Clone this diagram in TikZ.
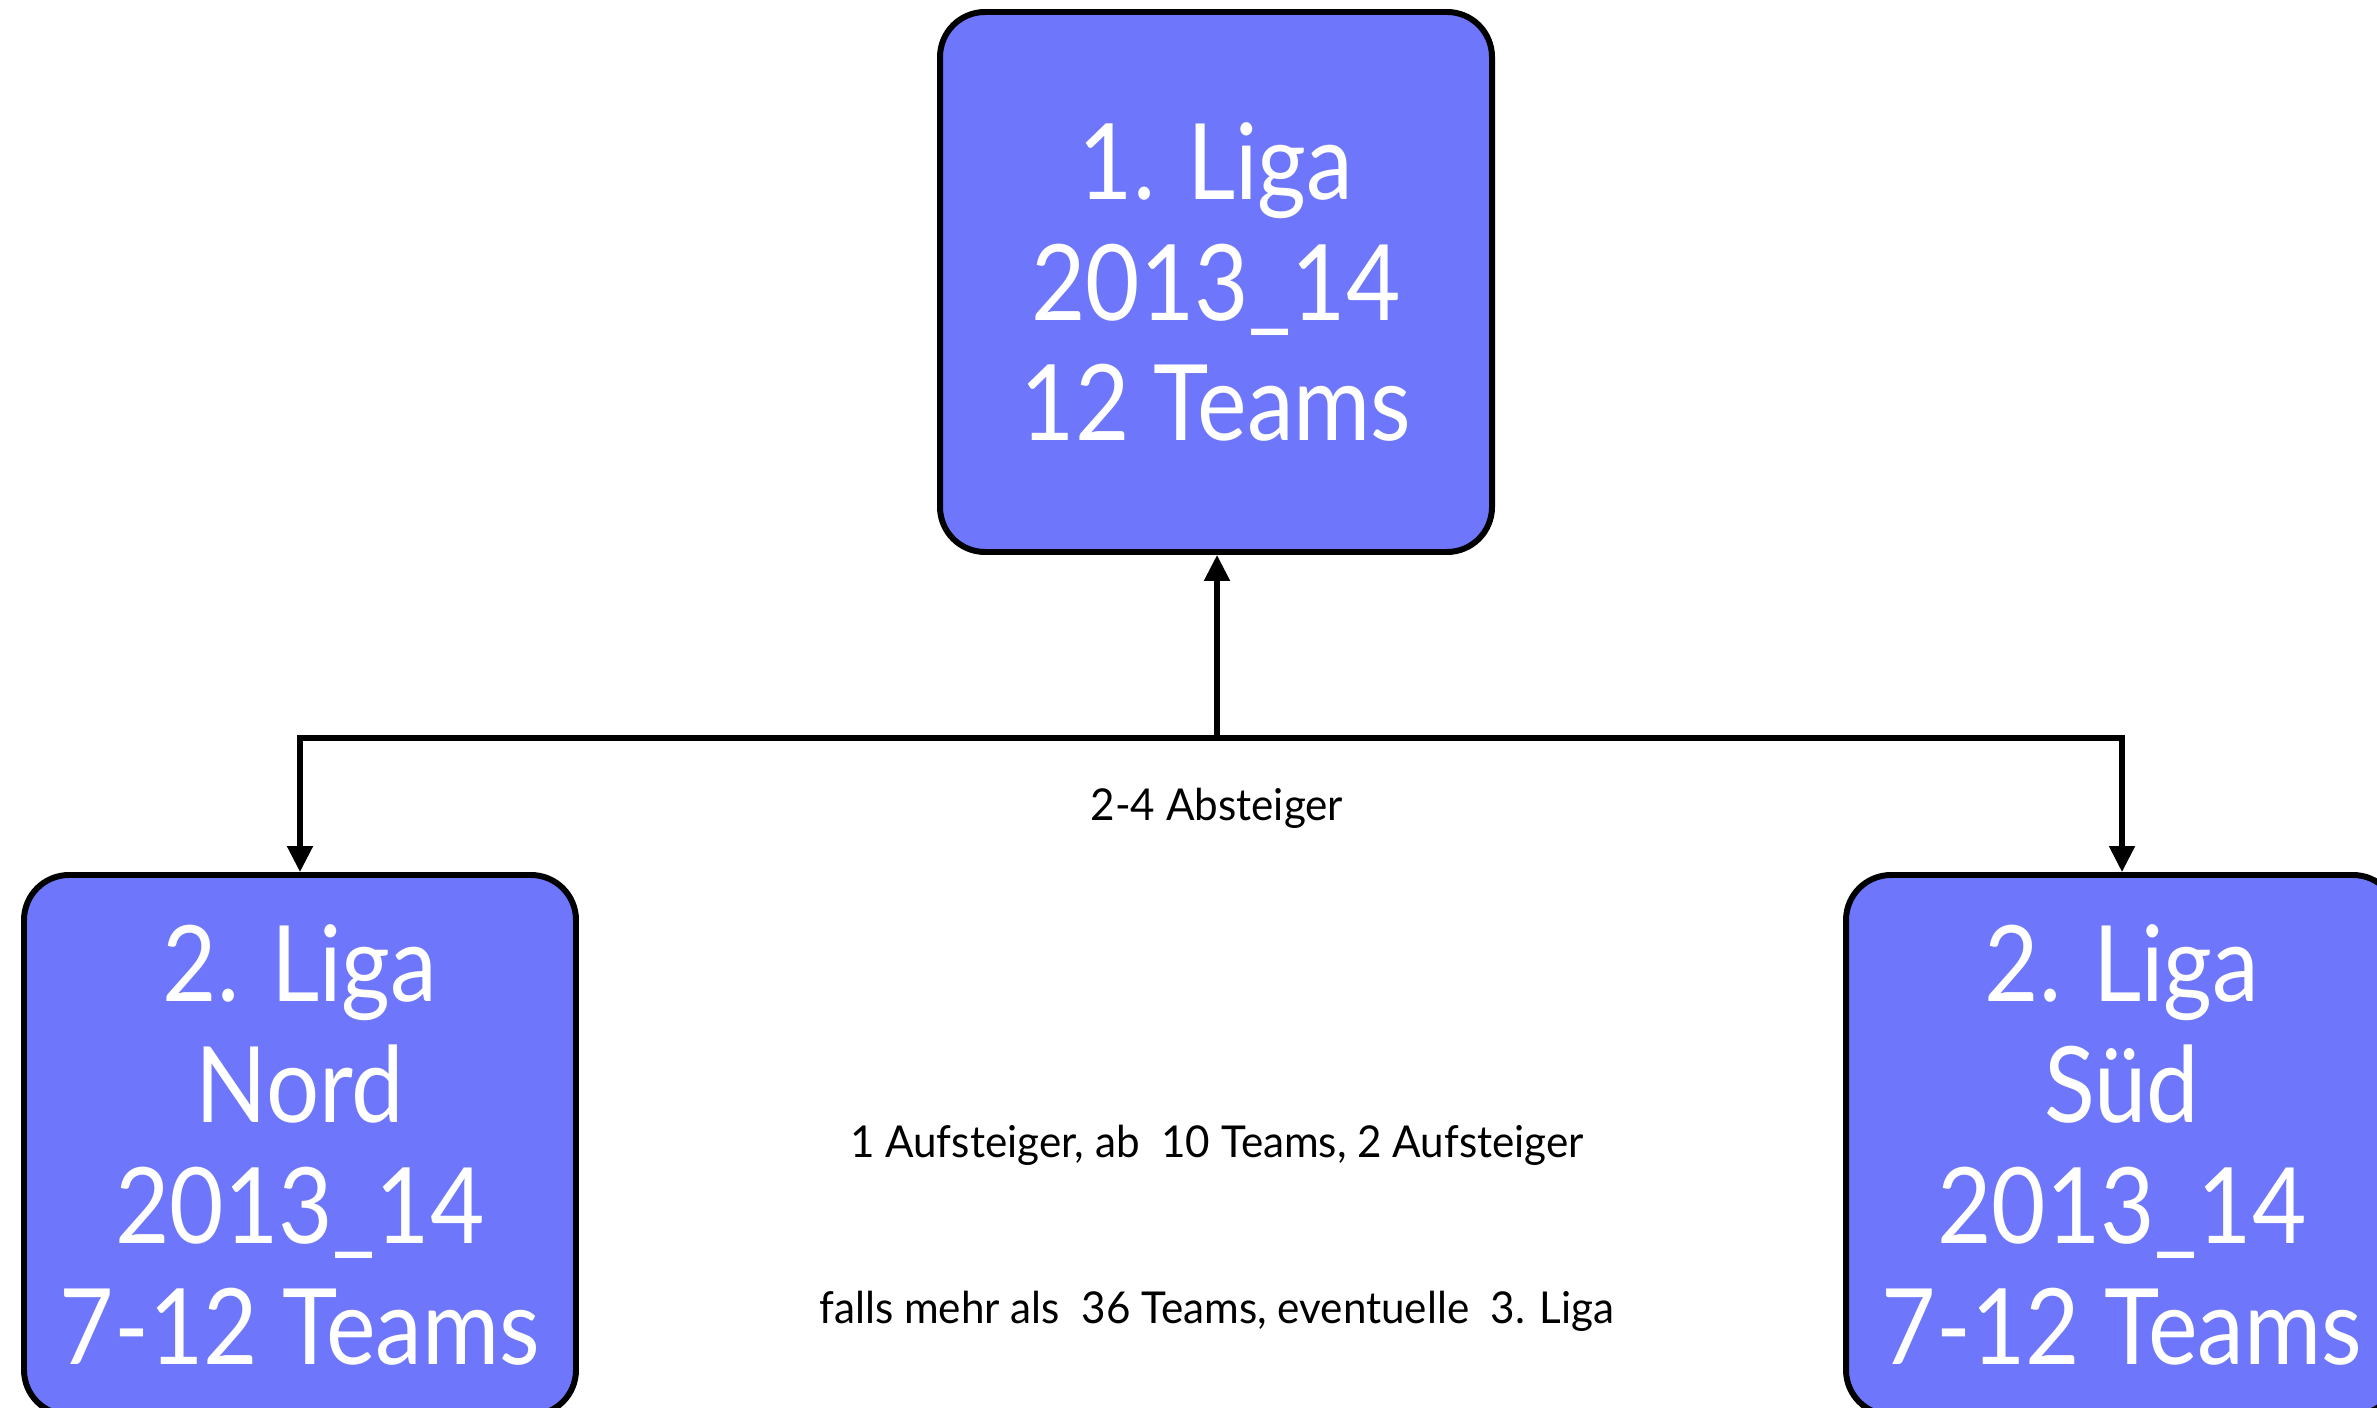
\documentclass[tikz,border=0pt]{standalone}
\usepackage{fontspec}
\setmainfont{Lato}
\newfontfamily\boxfont[FakeStretch=0.89]{Lato}
\newfontfamily\notefont[FakeStretch=0.96]{Lato}
\usetikzlibrary{arrows.meta}
\definecolor{boxblue}{HTML}{6E76FB}
\tikzset{
  league/.style={draw=black, line width=1.7pt, fill=boxblue, rounded corners=4.5mm,
    minimum width=55.2mm, minimum height=54mm, inner sep=0pt, align=center,
    text=white, font=\boxfont\fontsize{30}{34.4}\selectfont},
  link/.style={line width=1.5pt, -{Triangle[length=2.6mm,width=2.5mm]}},
  note/.style={font=\notefont\fontsize{12.5}{15}\selectfont, inner sep=0pt}
}
\begin{document}
\begin{tikzpicture}[x=0.1mm,y=-0.1mm]
\useasboundingbox (0,0) rectangle (2377,1408);
\node[league] (top) at (1216,282) {1. Liga\\2013\_14\\12 Teams};
\node[league] (nord) at (300,1145) {2. Liga\\Nord\\2013\_14\\7-12 Teams};
\node[league] (sued) at (2122,1145) {2. Liga\\Süd\\2013\_14\\7-12 Teams};
\coordinate (j) at (1217,738);
\draw[link] (j) -- (top.south -| j);
\draw[link] (j) -| (nord.north);
\draw[link] (j) -| (sued.north);
\node[note] (abst) at (1217,808) {2-4 Absteiger};
\node[note] (aufst) at (1217,1145) {1 Aufsteiger, ab\ \ 10 Teams, 2 Aufsteiger};
\node[note] (falls) at (1217,1311) {falls mehr als\ \ 36 Teams, eventuelle\ \ 3. Liga};
\end{tikzpicture}
\end{document}
